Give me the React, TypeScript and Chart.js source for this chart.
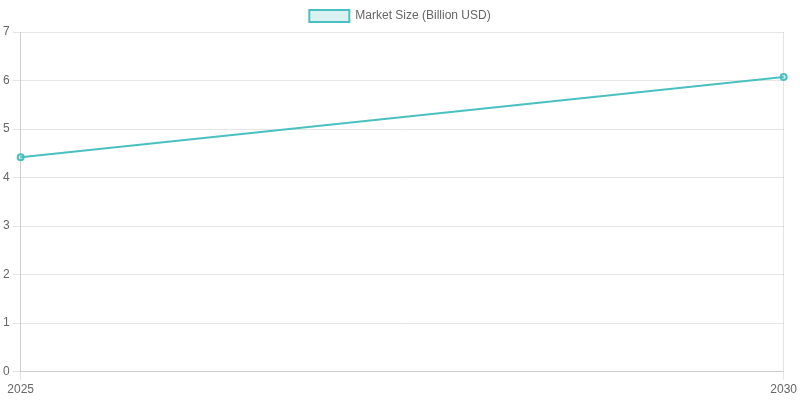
import { Chart, registerables } from "chart.js";
import { useEffect, useRef } from "react";

Chart.register(...registerables);

const years = ["2025", "2030"];
const marketSize = [4.42, 6.07];

const App = () => {
    const canvasRef = useRef<HTMLCanvasElement | null>(null);
    const chartRef = useRef<any>(null);

    useEffect(() => {
        document.body.style.margin = "0";
        if (!canvasRef.current) return;
        if (chartRef.current) chartRef.current.destroy();

        chartRef.current = new Chart(canvasRef.current, {
            type: "line",
            data: {
                labels: years,
                datasets: [
                    {
                        label: "Market Size (Billion USD)",
                        data: marketSize,
                        borderColor: "rgb(75, 192, 192)",
                        backgroundColor: "rgba(75, 192, 192, 0.2)",
                        borderWidth: 2,
                        tension: 0
                    }
                ]
            },
            options: {
                animation: false,
                responsive: true,
                maintainAspectRatio: false,
                scales: {
                    y: { beginAtZero: true }
                }
            }
        });

        return () => chartRef.current?.destroy();
    }, []);

    return (
        <div style={{ width: "800px", height: "400px" }}>
            <canvas ref={canvasRef}></canvas>
        </div>
    );
};

export default App;
